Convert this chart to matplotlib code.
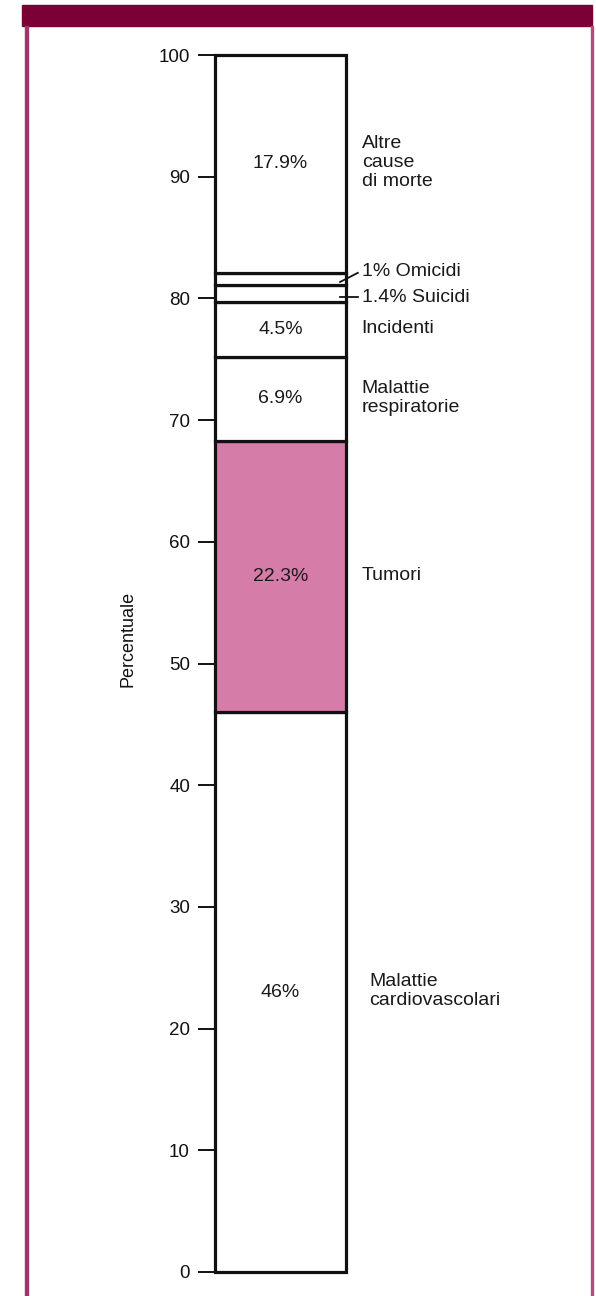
import matplotlib
matplotlib.use("Agg")
import matplotlib.pyplot as plt
from matplotlib.patches import Rectangle
import numpy as np

plt.rcParams['font.family'] = ['Liberation Sans', 'DejaVu Sans']

# data, bottom to top
cause = ["Malattie\ncardiovascolari", "Tumori", "Malattie\nrespiratorie",
         "Incidenti", "Suicidi", "Omicidi", "Altre\ncause\ndi morte"]
perc = [46, 22.3, 6.9, 4.5, 1.4, 1, 17.9]
perc_lbl = ["46%", "22.3%", "6.9%", "4.5%", "1.4%", "1%", "17.9%"]
colori = ["white", "#d67ca8", "white", "white", "white", "white", "white"]
yticks = [0, 10, 20, 30, 40, 50, 60, 70, 80, 90, 100]

W, H = 596, 1296
fig = plt.figure(figsize=(W / 100, H / 100), dpi=100)
fig.patch.set_facecolor("white")

# cornice in alto e ai lati
fig.patches.append(Rectangle((22 / W, 1 - 26 / H), 570 / W, 21 / H,
                             transform=fig.transFigure, color="#7b0036", zorder=0))
fig.patches.append(Rectangle((25 / W, 0), 3 / W, 1 - 26 / H,
                             transform=fig.transFigure, color="#a2336d", zorder=0))
fig.patches.append(Rectangle((591 / W, 0), 2 / W, 1 - 26 / H,
                             transform=fig.transFigure, color="#b0507f", zorder=0))

ax = fig.add_axes([215 / W, (H - 1272) / H, 131 / W, 1217 / H])
ax.set_facecolor("none")

bottoms = np.concatenate([[0], np.cumsum(perc)[:-1]])
ax.bar([0] * len(perc), perc, bottom=bottoms, width=1, color=colori,
       edgecolor="#111111", linewidth=2.3, clip_on=False, zorder=3)

ax.set_xlim(-0.5, 0.5)
ax.set_ylim(0, 100)
for s in ax.spines.values():
    s.set_visible(False)
ax.set_xticks([])
ax.set_yticks(yticks)
ax.tick_params(axis="y", length=12, width=1.4, pad=6, labelsize=13.5,
               colors="#111111")
ax.set_ylabel("Percentuale", fontsize=13, color="#111111")
ax.yaxis.set_label_coords(-0.6, 0.52)

fs = 14
mid = bottoms + np.array(perc) / 2
for i, (m, lab, nome) in enumerate(zip(mid, perc_lbl, cause)):
    if nome in ("Suicidi", "Omicidi"):
        continue
    ax.text(0, m, lab, ha="center", va="center", fontsize=fs,
            color="#1a1a1a", zorder=4)
    dx = 0.06 if i == 0 else 0
    ax.text(0.62 + dx, m + 0.1, nome, ha="left", va="center", fontsize=fs,
            color="#1a1a1a", linespacing=1.15)

# etichette con linee guida per suicidi e omicidi
i_s = cause.index("Suicidi")
i_o = cause.index("Omicidi")
ax.plot([0.455, 0.59], [mid[i_s] - 0.3, mid[i_s] - 0.3], color="#111111",
        lw=1.3, clip_on=False, zorder=5)
ax.text(0.62, mid[i_s] - 0.3, perc_lbl[i_s] + " Suicidi", ha="left",
        va="center", fontsize=fs, color="#1a1a1a")
ax.plot([0.455, 0.59], [mid[i_o] - 0.25, mid[i_o] + 0.5], color="#111111",
        lw=1.3, clip_on=False, zorder=5)
ax.text(0.62, mid[i_o] + 0.57, perc_lbl[i_o] + " Omicidi", ha="left",
        va="center", fontsize=fs, color="#1a1a1a")

fig.savefig("out.png", dpi=100)
